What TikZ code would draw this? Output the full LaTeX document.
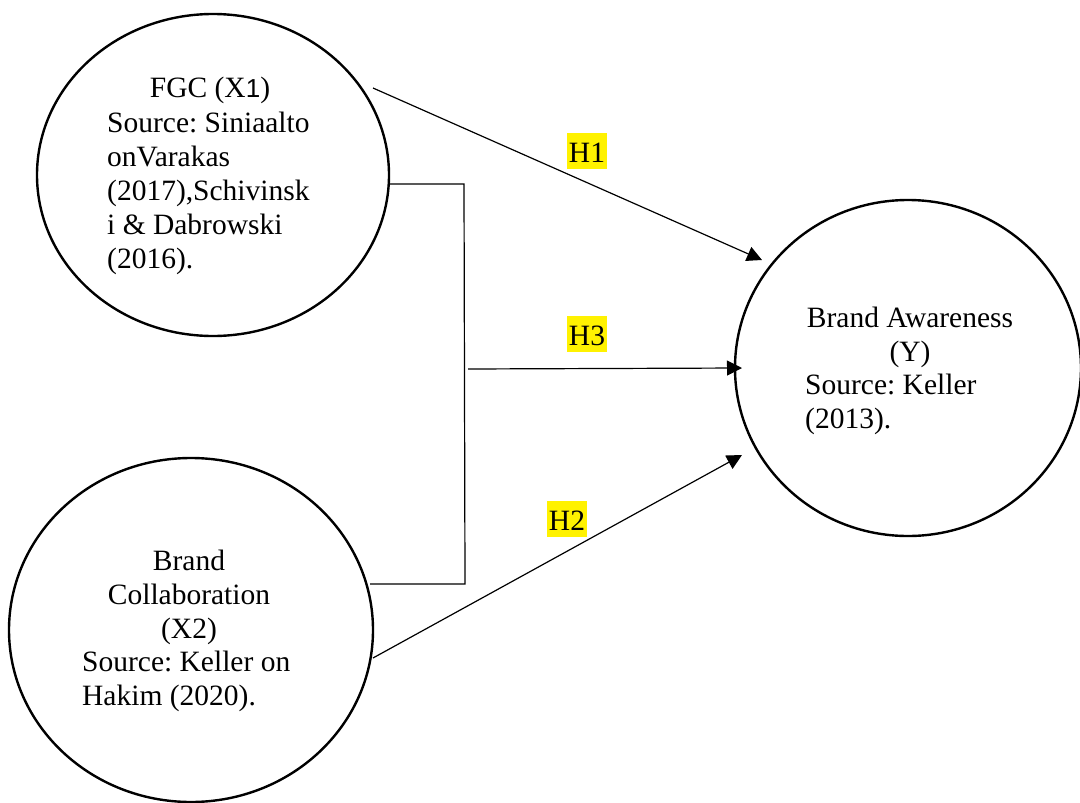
\documentclass[tikz,border=0pt]{standalone}
\usepackage{fontspec}
\setmainfont{Liberation Serif}
\newfontfamily\onefont{Liberation Sans}
\usetikzlibrary{shapes.geometric,arrows.meta}
\frenchspacing

\begin{document}
\begin{tikzpicture}[x=1pt, y=-1pt,
        var/.style={draw, ellipse, line width=2.4pt, inner sep=0pt},
        lbl/.style={inner sep=0pt, font=\fontsize{29.5}{34}\selectfont},
        hyp/.style={fill=yellow, inner xsep=2pt, inner ysep=0pt, text height=29pt, text depth=7pt, font=\fontsize{29.5}{34}\selectfont},
        link/.style={line width=1.2pt},
        arr/.style={line width=1.2pt, -{Triangle[length=15pt, width=15pt]}}]
    \useasboundingbox (0, 0) rectangle (1080, 803);

    % variables
    \node[var, minimum width=352, minimum height=322] (fgc) at (213, 175) {};
    \node[var, minimum width=364, minimum height=344] (bc) at (191, 630) {};
    \node[var, minimum width=346, minimum height=336] (ba) at (908, 368) {};

    % text anchors sit on the baseline of the last line
    \node[lbl, anchor=base] (fgctitle) at (210, 97) {FGC (X{\onefont\fontsize{26}{34}\selectfont 1})};
    \node[lbl, anchor=base west, align=left] (fgcsrc) at (107, 268) {Source: Siniaalto\\ onVarakas\\ (2017),Schivinsk\\ i \& Dabrowski\\ (2016).};

    \node[lbl, anchor=base, align=center] (bctitle) at (189, 638) {Brand\\ Collaboration\\ (X2)};
    \node[lbl, anchor=base west, align=left] (bcsrc) at (82, 705) {Source: Keller on\\ Hakim (2020).};

    \node[lbl, anchor=base, align=center] (batitle) at (910, 361) {Brand Awareness\\ (Y)};
    \node[lbl, anchor=base west, align=left] (basrc) at (805, 428) {Source: Keller\\ (2013).};

    % hypotheses
    \coordinate (h1a) at (373, 88);
    \coordinate (h1b) at (762, 260);
    \coordinate (h3a) at (468, 369);
    \coordinate (h3b) at (742, 368);
    \coordinate (h2a) at (373, 658);
    \coordinate (h2b) at (742, 455);
    \coordinate (jt) at (464, 184);
    \coordinate (jb) at (465, 584);

    \draw[link] (389, 184) -- (jt) -- (jb) -- (370, 584);
    \draw[arr] (h1a) -- (h1b);
    \draw[arr] (h3a) -- (h3b);
    \draw[arr] (h2a) -- (h2b);

    \node[hyp, anchor=base] (h1) at (587, 162) {H1};
    \node[hyp, anchor=base] (h3) at (587, 345) {H3};
    \node[hyp, anchor=base] (h2) at (567, 530) {H2};
\end{tikzpicture}
\end{document}
